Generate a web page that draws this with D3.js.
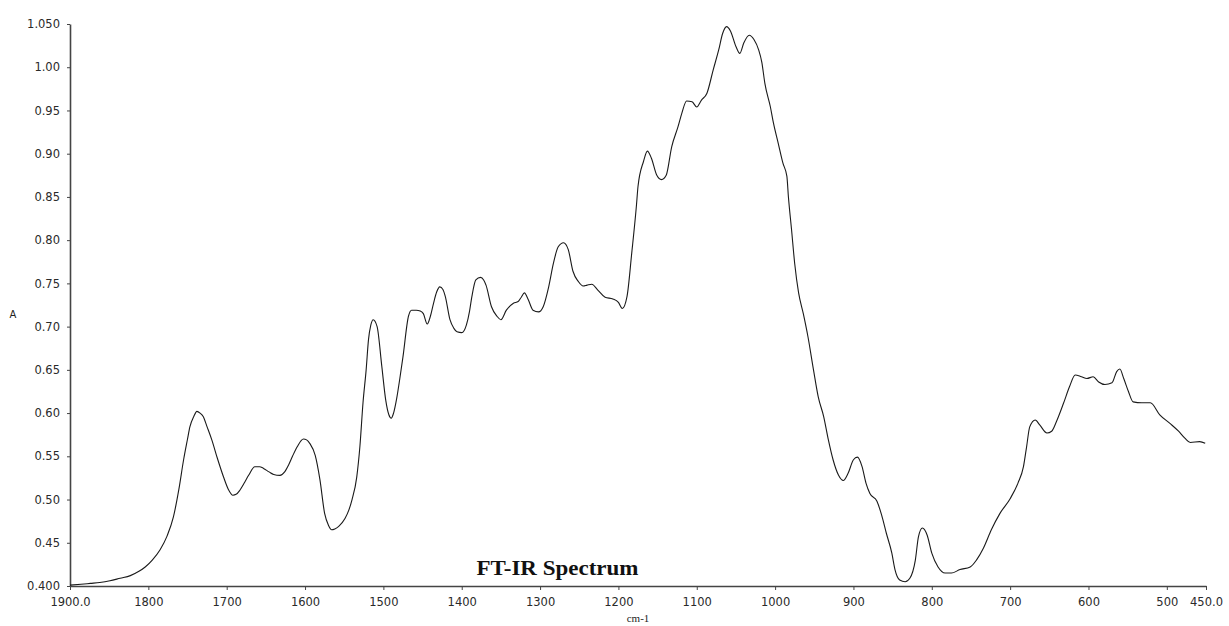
<!DOCTYPE html>
<html>
<head>
<meta charset="utf-8">
<script src="https://cdn.jsdelivr.net/npm/d3@7"></script>
<style>
  html, body { margin: 0; padding: 0; background: #fff; }
  svg { display: block; }
</style>
</head>
<body>
<svg id="chart" width="1229" height="626"></svg>
<script>
// Wavenumber (cm-1)
const wavenumbers = [1900,1886,1874,1862,1849,1836,1823,1812,1804,1795,1785,1776,1768,1761,1755,1750,1747,1742,1738,1734,1730,1725,1719,1712,1704,1698,1692,1688,1683,1677,1672,1664,1658,1653,1646,1640,1632,1626,1621,1616,1610,1602,1598,1594,1587,1581,1575,1570,1566,1562,1557,1549,1544,1540,1534,1530,1526,1522,1519,1516,1513,1508,1502,1497,1493,1490,1487,1483,1479,1475,1468,1464,1458,1453,1449,1444,1440,1436,1432,1428,1424,1421,1415,1410,1406,1400,1394,1390,1387,1382,1376,1372,1369,1362,1355,1350,1343,1334,1328,1324,1320,1315,1309,1302,1296,1289,1283,1277,1270,1264,1258,1251,1245,1240,1234,1226,1217,1207,1200,1195,1189,1183,1177,1175,1168,1163,1158,1151,1145,1139,1132,1124,1119,1113,1106,1100,1094,1087,1079,1072,1067,1062,1057,1050,1045,1040,1033,1027,1021,1017,1013,1006,1002,996,990,985,983,979,975,970,964,958,951,945,938,932,926,919,913,907,900,895,889,884,879,870,864,858,851,847,841,834,828,821,817,812,806,800,792,783,775,764,751,743,734,724,713,700,690,683,679,675,668,662,653,647,641,632,624,617,609,602,594,587,579,570,564,560,555,549,543,532,521,509,496,485,477,470,458,451];
// Absorbance (A)
const absorbance = [0.401,0.402,0.403,0.404,0.406,0.409,0.412,0.417,0.422,0.430,0.442,0.458,0.480,0.512,0.546,0.570,0.584,0.596,0.602,0.600,0.596,0.584,0.569,0.548,0.526,0.512,0.505,0.506,0.511,0.520,0.528,0.538,0.538,0.536,0.532,0.529,0.528,0.532,0.540,0.550,0.561,0.570,0.569,0.565,0.551,0.523,0.484,0.470,0.465,0.466,0.469,0.478,0.488,0.500,0.526,0.561,0.612,0.650,0.685,0.702,0.708,0.700,0.654,0.615,0.598,0.594,0.600,0.617,0.640,0.665,0.712,0.719,0.719,0.718,0.715,0.703,0.712,0.727,0.740,0.746,0.743,0.735,0.708,0.698,0.694,0.693,0.702,0.718,0.735,0.754,0.757,0.754,0.748,0.723,0.712,0.708,0.719,0.727,0.729,0.734,0.739,0.731,0.719,0.717,0.723,0.746,0.773,0.792,0.797,0.789,0.764,0.752,0.747,0.748,0.749,0.742,0.734,0.732,0.728,0.721,0.735,0.785,0.840,0.862,0.891,0.903,0.895,0.875,0.870,0.875,0.908,0.931,0.947,0.961,0.960,0.954,0.962,0.970,0.997,1.020,1.039,1.047,1.042,1.024,1.016,1.028,1.037,1.032,1.020,1.006,0.981,0.954,0.935,0.912,0.889,0.874,0.850,0.812,0.773,0.739,0.715,0.688,0.650,0.619,0.596,0.569,0.546,0.528,0.522,0.530,0.546,0.549,0.538,0.519,0.507,0.498,0.482,0.461,0.438,0.419,0.407,0.405,0.409,0.430,0.457,0.467,0.459,0.438,0.422,0.415,0.415,0.419,0.422,0.430,0.444,0.465,0.484,0.501,0.519,0.538,0.561,0.584,0.592,0.586,0.577,0.579,0.590,0.611,0.631,0.644,0.642,0.640,0.642,0.636,0.633,0.635,0.648,0.651,0.640,0.625,0.613,0.612,0.612,0.598,0.588,0.579,0.571,0.566,0.567,0.565];

const xTicks = [1900,1800,1700,1600,1500,1400,1300,1200,1100,1000,900,800,700,600,500,450];
const xTickLabels = ["1900.0","1800","1700","1600","1500","1400","1300","1200","1100","1000","900","800","700","600","500","450.0"];
const yTicks = [0.40,0.45,0.50,0.55,0.60,0.65,0.70,0.75,0.80,0.85,0.90,0.95,1.00,1.05];
const yTickLabels = ["0.400","0.45","0.50","0.55","0.60","0.65","0.70","0.75","0.80","0.85","0.90","0.95","1.00","1.050"];

const titleText = "FT-IR Spectrum";
const xLabel = "cm-1";
const yLabel = "A";

(function () {
  const svg = d3.select("#chart");
  const mLeft = 70, mRight = 1206, mTop = 24, mBottom = 586;

  const x = d3.scaleLinear().domain([1900, 450]).range([mLeft, mRight]);
  const y = d3.scaleLinear().domain([0.40, 1.05]).range([mBottom, mTop]);

  const xAxis = d3.axisBottom(x)
    .tickValues(xTicks)
    .tickFormat((d, i) => xTickLabels[i])
    .tickSizeInner(4).tickSizeOuter(0).tickPadding(8);
  const yAxis = d3.axisLeft(y)
    .tickValues(yTicks)
    .tickFormat((d, i) => yTickLabels[i])
    .tickSizeInner(3).tickSizeOuter(0).tickPadding(7);

  const gx = svg.append("g").attr("transform", `translate(0,${mBottom})`).call(xAxis);
  const gy = svg.append("g").attr("transform", `translate(${mLeft},0)`).call(yAxis);

  [gx, gy].forEach(g => {
    g.select(".domain").attr("stroke", "#444").attr("stroke-width", 1.6);
    g.selectAll(".tick line").attr("stroke", "#444").attr("stroke-width", 1);
    g.selectAll(".tick text")
      .attr("font-family", "'DejaVu Sans', Verdana, sans-serif")
      .attr("font-size", "11.5px")
      .attr("fill", "#2a2a2a");
  });

  const data = wavenumbers.map((w, i) => ({ w, a: absorbance[i] }));
  const line = d3.line()
    .x(d => x(d.w))
    .y(d => y(d.a))
    .curve(d3.curveMonotoneX);

  svg.append("path")
    .datum(data)
    .attr("d", line)
    .attr("fill", "none")
    .attr("stroke", "#1a1a1a")
    .attr("stroke-width", 1.1)
    .attr("stroke-linejoin", "round");

  svg.append("text")
    .attr("x", 557.5).attr("y", 575)
    .attr("text-anchor", "middle")
    .attr("font-family", "'Liberation Serif', 'Times New Roman', serif")
    .attr("font-weight", "bold")
    .attr("font-size", "20px")
    .attr("textLength", 162)
    .attr("lengthAdjust", "spacingAndGlyphs")
    .attr("fill", "#111")
    .text(titleText);

  svg.append("text")
    .attr("x", 638).attr("y", 622)
    .attr("text-anchor", "middle")
    .attr("font-family", "'Liberation Serif', 'Times New Roman', serif")
    .attr("font-size", "11px")
    .attr("fill", "#222")
    .text(xLabel);

  svg.append("text")
    .attr("x", 13).attr("y", 318)
    .attr("text-anchor", "middle")
    .attr("font-family", "'DejaVu Sans', sans-serif")
    .attr("font-size", "10px")
    .attr("fill", "#222")
    .text(yLabel);
})();
</script>
</body>
</html>
